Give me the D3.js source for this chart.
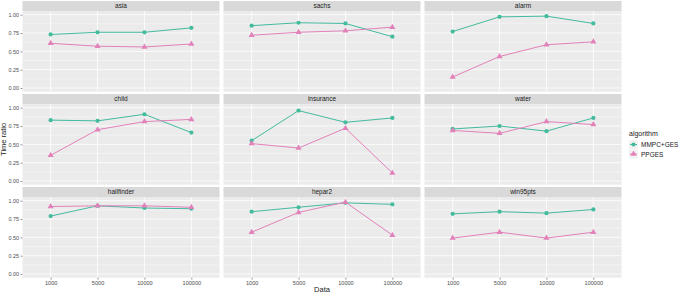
<!DOCTYPE html>
<html>
<head>
<meta charset="utf-8">
<script src="https://cdn.jsdelivr.net/npm/d3@7"></script>
<style>
  body { margin: 0; background: #fff; }
  svg { font-family: "Liberation Sans", Arial, sans-serif; }
</style>
</head>
<body>
<svg width="685" height="294"></svg>
<script>
// data
const sizes = ["1000", "5000", "10000", "100000"];
const networks = ["asia", "sachs", "alarm", "child", "insurance", "water", "hailfinder", "hepar2", "win95pts"];
const algorithms = ["MMPC+GES", "PPGES"];

const mmpcGes = [
  [0.73, 0.76, 0.76, 0.82],   // asia
  [0.85, 0.89, 0.88, 0.70],   // sachs
  [0.77, 0.97, 0.98, 0.88],   // alarm
  [0.83, 0.82, 0.91, 0.66],   // child
  [0.55, 0.96, 0.80, 0.86],   // insurance
  [0.71, 0.75, 0.68, 0.86],   // water
  [0.79, 0.93, 0.90, 0.89],   // hailfinder
  [0.85, 0.91, 0.97, 0.95],   // hepar2
  [0.82, 0.85, 0.83, 0.88]    // win95pts
];
const ppges = [
  [0.61, 0.57, 0.56, 0.60],
  [0.72, 0.76, 0.78, 0.83],
  [0.15, 0.43, 0.59, 0.63],
  [0.35, 0.70, 0.81, 0.84],
  [0.51, 0.45, 0.72, 0.11],
  [0.69, 0.65, 0.81, 0.77],
  [0.92, 0.93, 0.93, 0.91],
  [0.57, 0.84, 0.98, 0.53],
  [0.49, 0.57, 0.49, 0.57]
];
const yTicks = [0, 0.25, 0.5, 0.75, 1];

const colors = { "MMPC+GES": "#43bb9d", "PPGES": "#e281ba" };

const svg = d3.select("svg");

// panel geometry
const panelLeft = 22.5, panelW = 197, gapX = 4;
const stripH = 10, panelH = 80.7;
const rowTops = [1, 94, 187];   // strip tops

const x = d3.scalePoint().domain(sizes).range([0, panelW]).padding(0.6);
const y = d3.scaleLinear().domain([-0.05, 1.05]).range([panelH, 0]);

const line = d3.line()
  .x((d, i) => x(sizes[i]))
  .y(d => y(d));

networks.forEach((name, k) => {
  const col = k % 3, row = Math.floor(k / 3);
  const px = panelLeft + col * (panelW + gapX);
  const py = rowTops[row] + stripH;

  // strip
  svg.append("rect")
    .attr("x", px).attr("y", rowTops[row])
    .attr("width", panelW).attr("height", stripH)
    .attr("fill", "#d9d9d9");
  svg.append("text")
    .attr("x", px + panelW / 2).attr("y", rowTops[row] + stripH / 2 + 2.3)
    .attr("text-anchor", "middle")
    .attr("font-size", 6.5).attr("fill", "#1a1a1a")
    .text(name);

  const g = svg.append("g").attr("transform", `translate(${px},${py})`);
  g.append("rect").attr("width", panelW).attr("height", panelH).attr("fill", "#ebebeb");

  // minor grid
  g.selectAll("line.minor")
    .data([0.125, 0.375, 0.625, 0.875])
    .enter().append("line")
    .attr("x1", 0).attr("x2", panelW)
    .attr("y1", d => y(d)).attr("y2", d => y(d))
    .attr("stroke", "#fff").attr("stroke-width", 0.4);
  // major grid
  g.selectAll("line.hmajor")
    .data(yTicks)
    .enter().append("line")
    .attr("x1", 0).attr("x2", panelW)
    .attr("y1", d => y(d)).attr("y2", d => y(d))
    .attr("stroke", "#fff").attr("stroke-width", 0.8);
  g.selectAll("line.vmajor")
    .data(sizes)
    .enter().append("line")
    .attr("y1", 0).attr("y2", panelH)
    .attr("x1", d => x(d)).attr("x2", d => x(d))
    .attr("stroke", "#fff").attr("stroke-width", 0.8);

  // series
  [[algorithms[0], mmpcGes[k]], [algorithms[1], ppges[k]]].forEach(([alg, vals]) => {
    g.append("path")
      .datum(vals)
      .attr("d", line)
      .attr("fill", "none")
      .attr("stroke", colors[alg])
      .attr("stroke-width", 1);
    const sym = d3.symbol().type(alg === "PPGES" ? d3.symbolTriangle : d3.symbolCircle)
      .size(alg === "PPGES" ? 16 : 14);
    g.selectAll(null)
      .data(vals)
      .enter().append("path")
      .attr("transform", (d, i) => `translate(${x(sizes[i])},${y(d)})`)
      .attr("d", sym)
      .attr("fill", colors[alg]);
  });

  // y axis on left column
  if (col === 0) {
    const ya = g.append("g")
      .call(d3.axisLeft(y).tickValues(yTicks).tickFormat(d3.format(".2f")).tickSize(2).tickPadding(1.5));
    ya.select(".domain").remove();
    ya.selectAll("line").attr("stroke", "#333").attr("stroke-width", 0.5);
    ya.selectAll("text").attr("font-size", 5.4).attr("fill", "#4d4d4d").attr("font-family", "Liberation Sans, Arial, sans-serif");
  }
  // x axis on bottom row
  if (row === 2) {
    const xa = g.append("g").attr("transform", `translate(0,${panelH})`)
      .call(d3.axisBottom(x).tickSize(2).tickPadding(1.5));
    xa.select(".domain").remove();
    xa.selectAll("line").attr("stroke", "#333").attr("stroke-width", 0.5);
    xa.selectAll("text").attr("font-size", 5.6).attr("fill", "#4d4d4d").attr("font-family", "Liberation Sans, Arial, sans-serif");
  }
});

// axis titles
svg.append("text")
  .attr("x", panelLeft + (3 * panelW + 2 * gapX) / 2).attr("y", 292)
  .attr("text-anchor", "middle").attr("font-size", 7.5).attr("fill", "#1a1a1a")
  .text("Data");
svg.append("text")
  .attr("transform", `translate(5.5,${(rowTops[0] + rowTops[2] + stripH + panelH) / 2}) rotate(-90)`)
  .attr("text-anchor", "middle").attr("font-size", 7.5).attr("fill", "#1a1a1a")
  .text("Time ratio");

// legend
const lg = svg.append("g").attr("transform", "translate(629,128)");
lg.append("text").attr("x", 0).attr("y", 8).attr("font-size", 7).attr("fill", "#1a1a1a").text("algorithm");
algorithms.forEach((alg, i) => {
  const ky = 12 + i * 9.5;
  lg.append("rect").attr("x", 0).attr("y", ky).attr("width", 9).attr("height", 9).attr("fill", "#f2f2f2");
  lg.append("line").attr("x1", 1).attr("x2", 8).attr("y1", ky + 4.5).attr("y2", ky + 4.5)
    .attr("stroke", colors[alg]).attr("stroke-width", 1);
  lg.append("path")
    .attr("transform", `translate(4.5,${ky + 4.5})`)
    .attr("d", d3.symbol().type(alg === "PPGES" ? d3.symbolTriangle : d3.symbolCircle).size(alg === "PPGES" ? 16 : 14))
    .attr("fill", colors[alg]);
  lg.append("text").attr("x", 12).attr("y", ky + 7).attr("font-size", 6.5).attr("fill", "#1a1a1a").text(alg);
});
</script>
</body>
</html>
